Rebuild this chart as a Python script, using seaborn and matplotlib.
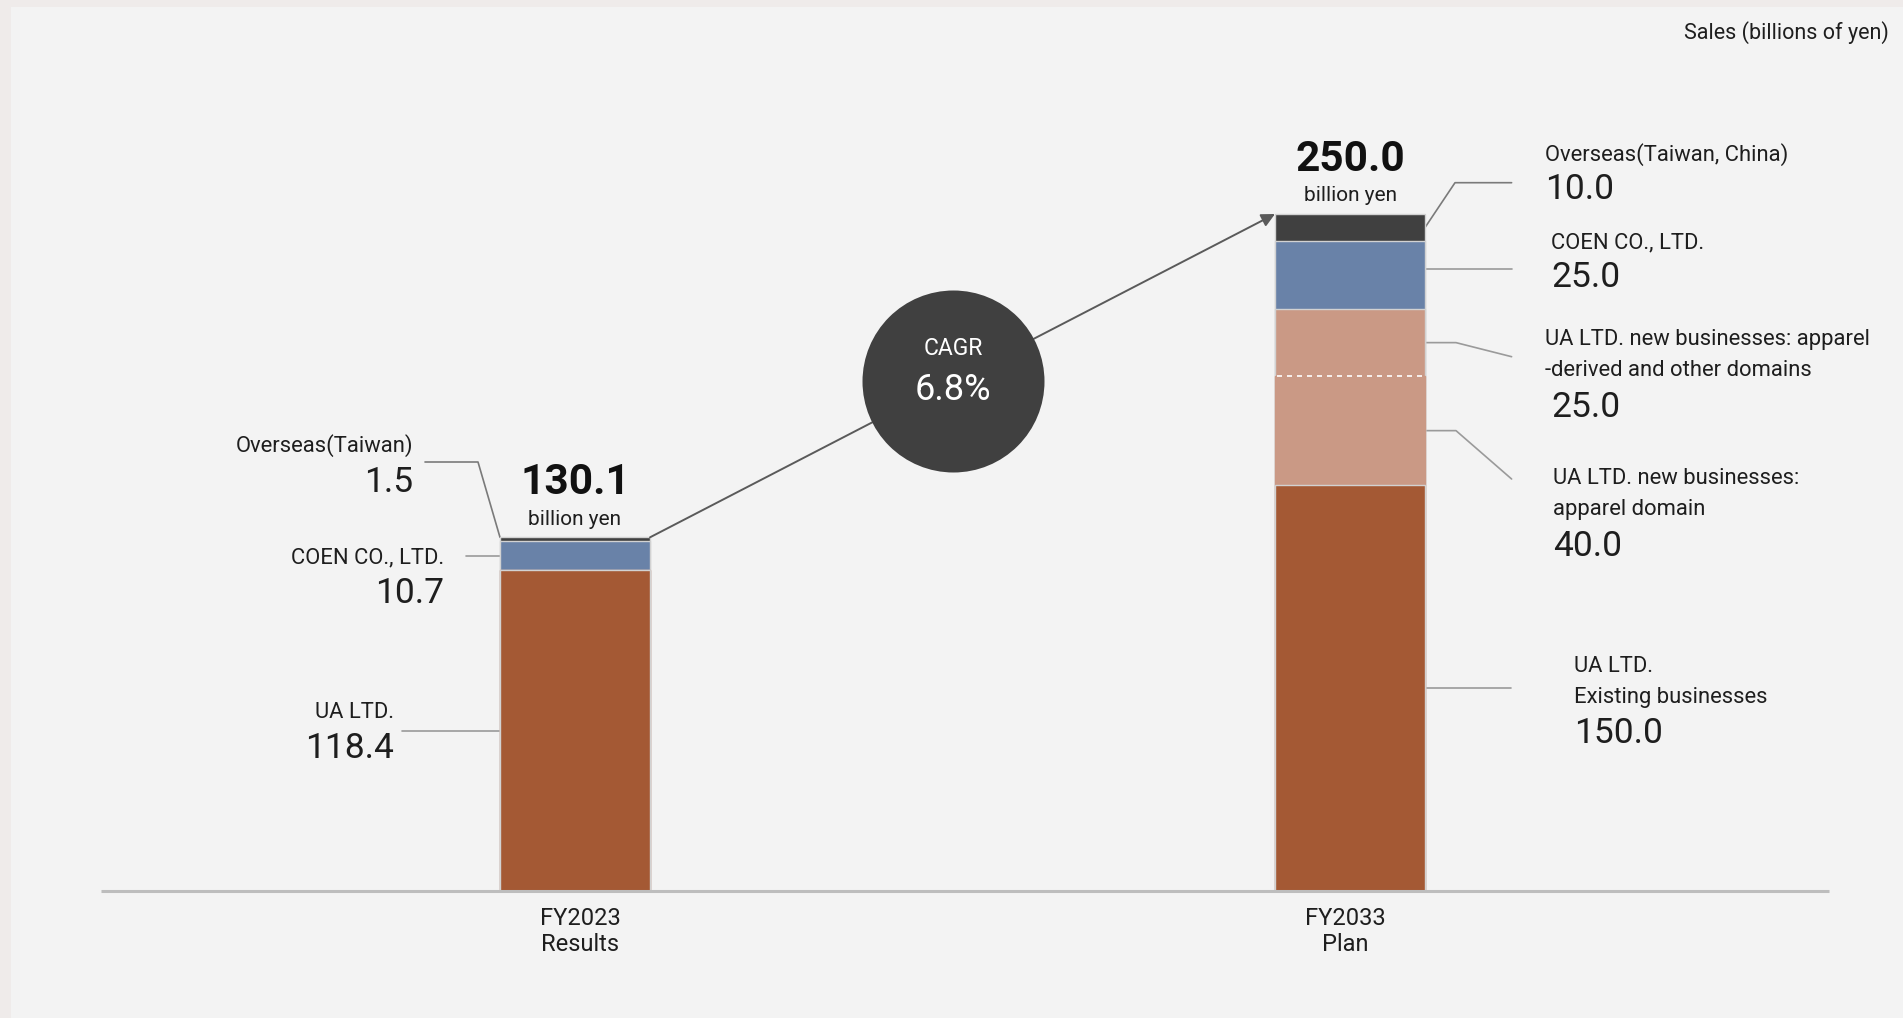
import numpy as np
import matplotlib
matplotlib.use("Agg")
import matplotlib.pyplot as plt
import seaborn as sns
from matplotlib.patches import Rectangle

# ---------------- data ----------------
categories = ["FY2023\nResults", "FY2033\nPlan"]
ua_existing = [118.4, 150.0]
ua_new_apparel = [0.0, 40.0]
ua_new_derived = [0.0, 25.0]
coen = [10.7, 25.0]
overseas = [1.5, 10.0]
totals = [130.1, 250.0]
cagr = 6.8

left_names = ["UA LTD.", "", "", "COEN CO., LTD.", "Overseas(Taiwan)"]
right_names = ["UA LTD.\nExisting businesses",
               "UA LTD. new businesses:\napparel domain",
               "UA LTD. new businesses: apparel\n-derived and other domains",
               "COEN CO., LTD.",
               "Overseas(Taiwan, China)"]

series = [ua_existing, ua_new_apparel, ua_new_derived, coen, overseas]
colors = ["#a45934", "#ca9985", "#ca9985", "#6982a8", "#404040"]

# ---------------- style ----------------
sns.set_style("white")
plt.rcParams["font.family"] = ["Roboto", "DejaVu Sans"]
TXT = "#1e1e1e"
LEAD = "#9a9a9a"

W, H = 1903, 1018
fig = plt.figure(figsize=(W / 100, H / 100), dpi=100, facecolor="#efebea")
fig.add_artist(Rectangle((11 / W, 0), 1 - 11 / W, 1 - 7 / H, transform=fig.transFigure,
                         facecolor="#f3f3f3", edgecolor="none", zorder=-1))
ax = fig.add_axes([0, 0, 1, 1])
ax.patch.set_visible(False)

BASE_PY, PX_PER_UNIT, X0_PX, X_STEP_PX = 891, 2.708, 575, 775
def dy(p):
    return (BASE_PY - p) / PX_PER_UNIT
def dx(p):
    return (p - X0_PX) / X_STEP_PX

BAR_W = 150 / X_STEP_PX
cum = np.cumsum(np.array(series), axis=0)
lower = cum - np.array(series)

# stacked bars: draw cumulative totals from top layer down
for k in reversed(range(len(series))):
    ec = colors[k] if k == 1 else "#d2d2d2"
    sns.barplot(x=categories, y=cum[k], order=categories, color=colors[k], saturation=1,
                width=BAR_W, edgecolor=ec, linewidth=1.0, ax=ax, zorder=2)

# dashed divider between the two new-business segments
for i in range(len(categories)):
    if ua_new_derived[i] > 0:
        ax.hlines(cum[1][i], i - BAR_W / 2 + 0.002, i + BAR_W / 2 - 0.002, colors="white",
                  linestyles=(0, (3, 3)), linewidth=1.2, zorder=3)

ax.set_xlim(dx(0), dx(W))
ax.set_ylim(dy(H), dy(0))
ax.set_xticks([])
ax.set_yticks([])
ax.set_xlabel("")
ax.set_ylabel("")
for s in ax.spines.values():
    s.set_visible(False)

# baseline
ax.plot([dx(101), dx(1829)], [0, 0], color="#bdbdbd", lw=2.2, zorder=4, solid_capstyle="butt")

# category labels
cat_label_shift = [dx(580) - 0, dx(1345) - 1]
for i, cat in enumerate(categories):
    for j, line in enumerate(cat.split("\n")):
        ax.text(i + cat_label_shift[i], dy(925 + j * 25.7), line, ha="center", va="baseline",
                fontsize=17, color=TXT)

# unit label
ax.text(dx(1889), dy(39), "Sales (billions of yen)", ha="right", va="baseline",
        fontsize=15.5, color=TXT)

# totals
for i, t in enumerate(totals):
    top = cum[-1][i]
    ax.text(i, top + 16, f"{t:.1f}", ha="center", va="baseline", fontsize=30.5,
            fontweight="bold", color="#111111")
    ax.text(i, top + 4.7, "billion yen", ha="center", va="baseline", fontsize=15, color=TXT)

# growth arrow and CAGR badge
x_start, y_start = 0 + BAR_W / 2, cum[-1][0]
x_end, y_end = 1 - BAR_W / 2, cum[-1][1]
ax.annotate("", xy=(x_end, y_end), xytext=(x_start, y_start),
            arrowprops=dict(arrowstyle="-|>", color="#5a5a5a", lw=1.4, mutation_scale=20,
                            shrinkA=0, shrinkB=0), zorder=5)
t_c = 0.485
cx, cy = x_start + t_c * (x_end - x_start), y_start + t_c * (y_end - y_start)
ax.scatter([cx], [cy], s=(2 * 91 * 0.72) ** 2, color="#404040", zorder=6, linewidths=0)
ax.text(cx, cy + (382.3 - 356.7) / PX_PER_UNIT, "CAGR", ha="center", va="baseline",
        fontsize=16.5, color="white", zorder=7)
ax.text(cx, cy - (401.7 - 382.3) / PX_PER_UNIT, f"{cagr}%", ha="center", va="baseline",
        fontsize=26, color="white", zorder=7)

LBL_FS, VAL_FS = 15.8, 25.5
# ---- left bar labels ----
xl = 0 - BAR_W / 2
# UA LTD.
k = 0
ym = lower[k][0] + series[k][0] / 2
ax.plot([dx(402), xl], [ym, ym], color=LEAD, lw=1.2, zorder=1)
ax.text(dx(394), dy(718.3), left_names[k], ha="right", va="baseline", fontsize=LBL_FS, color=TXT)
ax.text(dx(394), dy(758.3), f"{series[k][0]:.1f}", ha="right", va="baseline", fontsize=VAL_FS, color=TXT)
# COEN
k = 3
ym = lower[k][0] + series[k][0] / 2
ax.plot([dx(466), xl], [ym, ym], color=LEAD, lw=1.2, zorder=1)
ax.text(dx(444), dy(563.3), left_names[k], ha="right", va="baseline", fontsize=LBL_FS, color=TXT)
ax.text(dx(444), dy(602.7), f"{series[k][0]:.1f}", ha="right", va="baseline", fontsize=VAL_FS, color=TXT)
# Overseas
k = 4
ax.plot([dx(425), dx(478), xl], [dy(462), dy(462), cum[k][0]], color="#7a7a7a", lw=1.2, zorder=1)
ax.text(dx(413), dy(452), left_names[k], ha="right", va="baseline", fontsize=LBL_FS, color=TXT)
ax.text(dx(413), dy(491.7), f"{series[k][0]:.1f}", ha="right", va="baseline", fontsize=VAL_FS, color=TXT)

# ---- right bar labels ----
xr = 1 + BAR_W / 2
anchor_frac = [0.5, 0.5, 0.5, 0.59, 0.5]
leaders = {
    0: ([xr, dx(1511)], None),
    1: ([xr, dx(1456), dx(1511.6)], [None, None, dy(479)]),
    2: ([xr, dx(1456), dx(1511.6)], [None, None, dy(356.7)]),
    3: ([xr, dx(1511.6)], None),
    4: ([xr, dx(1455), dx(1511.6)], [None, dy(182.7), dy(182.7)]),
}
text_pos = {  # x_px, first line baseline, value x_px, value baseline
    0: (1574, 672.3, 1574, 743.3),
    1: (1553, 484.0, 1553, 556.0),
    2: (1545, 345.0, 1551, 416.7),
    3: (1551, 248.3, 1551, 286.7),
    4: (1545, 160.7, 1545, 199.0),
}
for k in range(len(series)):
    ya = lower[k][1] + series[k][1] * anchor_frac[k]
    xs, ys = leaders[k]
    if ys is None:
        ys = [ya] * len(xs)
    else:
        ys = [ya if v is None else v for v in ys]
        if k in (1, 2):
            ys[1] = ya
    ax.plot(xs, ys, color=LEAD if k != 4 else "#7a7a7a", lw=1.2, zorder=1)
    tx, tb, vx, vb = text_pos[k]
    for j, line in enumerate(right_names[k].split("\n")):
        ax.text(dx(tx), dy(tb + j * 31), line, ha="left", va="baseline", fontsize=LBL_FS, color=TXT)
    ax.text(dx(vx), dy(vb), f"{series[k][1]:.1f}", ha="left", va="baseline", fontsize=VAL_FS, color=TXT)

fig.savefig("out.png", dpi=100, facecolor=fig.get_facecolor())
